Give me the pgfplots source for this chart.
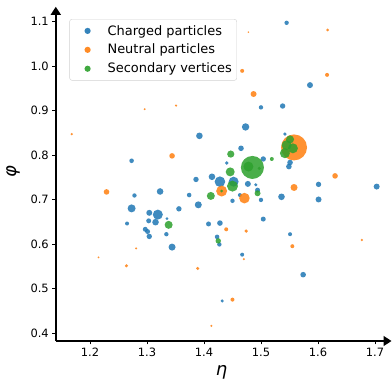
\documentclass[border=0pt]{standalone}
\usepackage{fontspec}
\setmainfont{DejaVu Sans}
\usepackage{pgfplots}
\pgfplotsset{compat=1.18}
\usetikzlibrary{arrows.meta}
\definecolor{c1}{HTML}{1F77B4}
\definecolor{c2}{HTML}{FF7F0E}
\definecolor{c3}{HTML}{2CA02C}
\pgfplotsset{
  bub/.style={scatter, only marks, mark=*, fill opacity=0.85,
    visualization depends on={\thisrow{r} \as \rr},
    scatter/use mapped color={draw opacity=0, fill=#1},
    scatter/@pre marker code/.append style={/tikz/mark size=\rr*1bp},
    legend image code/.code={\path[draw=none, fill=none] (0,-2bp) rectangle (33bp,2bp); \fill[#1, draw=none, fill opacity=0.9] (15bp,0) circle (3.1bp);}},
}
\begin{document}
\begin{tikzpicture}
\begin{axis}[
  scale only axis, width=331.7bp, height=330.2bp,
  xmin=1.14, xmax=1.722, ymin=0.382, ymax=1.124,
  axis lines=left,
  axis line style={line width=1.5bp, -{Triangle[length=8bp,width=10bp]}, shorten >=-4bp},
  tick align=outside, major tick length=3.5bp,
  tick style={line width=0.8bp, black},
  xtick={1.2,1.3,1.4,1.5,1.6,1.7},
  ytick={0.4,0.5,0.6,0.7,0.8,0.9,1.0,1.1},
  /pgf/number format/assume math mode=true,
  /pgf/number format/.cd, fixed, fixed zerofill, precision=1, /pgfplots/.cd,
  tick label style={font=\fontsize{11.5}{13}\selectfont},
  xlabel={\itshape η}, ylabel={\itshape φ},
  label style={font=\fontsize{18}{20}\selectfont},
  xlabel style={at={(axis description cs:0.5,-0.105)}, anchor=base},
  ylabel style={at={(axis description cs:-0.1286,0.5116)}, anchor=center},
  legend cell align=left,
  legend style={at={(axis description cs:0.041,0.975)}, anchor=north west,
    draw=black!18, rounded corners=2.5pt, fill=white, fill opacity=0.8, text opacity=1,
    font=\fontsize{13}{15}\selectfont, row sep=3.6bp, inner xsep=3bp, inner ysep=4bp},
]
\coordinate (O) at (rel axis cs:0,0);
\addplot[bub=c1] table[x=x,y=y] {
x y r
1.545 1.097 2.2
1.586 0.957 3.0
1.500 0.907 2.2
1.538 0.910 2.7
1.473 0.863 3.7
1.542 0.847 1.8
1.392 0.843 3.3
1.465 0.815 2.8
1.440 0.782 1.8
1.273 0.787 2.3
1.504 0.791 2.7
1.551 0.783 2.8
1.549 0.774 2.8
1.414 0.751 3.3
1.386 0.745 2.7
1.428 0.740 5.3
1.452 0.740 5.0
1.477 0.735 3.0
1.491 0.733 1.7
1.601 0.734 2.7
1.703 0.729 3.0
1.601 0.700 3.0
1.536 0.706 3.3
1.494 0.721 2.5
1.463 0.710 2.0
1.500 0.699 2.2
1.450 0.697 2.2
1.390 0.688 3.5
1.323 0.718 3.3
1.278 0.709 2.2
1.374 0.710 2.3
1.273 0.680 4.0
1.304 0.670 3.0
1.319 0.666 5.0
1.356 0.679 2.7
1.265 0.646 2.0
1.303 0.652 2.5
1.315 0.649 3.3
1.335 0.657 1.5
1.297 0.633 2.5
1.301 0.628 2.5
1.304 0.617 2.7
1.334 0.622 2.2
1.344 0.593 3.5
1.408 0.645 2.5
1.428 0.647 2.8
1.504 0.656 2.5
1.423 0.616 2.3
1.427 0.599 2.2
1.551 0.622 2.0
1.467 0.576 2.0
1.574 0.531 2.8
1.432 0.472 1.7
};
\addlegendentry{Charged particles}
\addplot[bub=c2] table[x=x,y=y] {
x y r
1.168 0.847 1.3
1.296 0.903 1.1
1.351 0.911 1.2
1.478 1.076 0.9
1.617 1.081 1.5
1.467 0.989 2.0
1.616 0.980 2.0
1.487 0.937 3.0
1.344 0.798 2.8
1.558 0.817 13.0
1.630 0.753 2.8
1.431 0.719 5.5
1.229 0.717 2.8
1.471 0.703 5.3
1.558 0.727 3.5
1.439 0.633 2.0
1.474 0.629 1.8
1.555 0.595 2.0
1.677 0.609 1.3
1.470 0.566 1.2
1.281 0.590 1.1
1.215 0.570 1.0
1.264 0.551 1.7
1.389 0.545 1.7
1.450 0.475 2.0
1.413 0.416 1.2
};
\addlegendentry{Neutral particles}
\addplot[bub=c3] table[x=x,y=y] {
x y r
1.447 0.802 3.6
1.446 0.762 4.5
1.485 0.772 11.5
1.478 0.774 5.0
1.497 0.770 1.7
1.519 0.791 2.0
1.551 0.835 4.0
1.545 0.822 5.0
1.556 0.815 5.0
1.542 0.804 5.0
1.450 0.730 5.5
1.431 0.719 1.5
1.412 0.708 4.0
1.494 0.714 3.0
1.338 0.643 4.0
1.425 0.607 2.7
};
\addlegendentry{Secondary vertices}
\end{axis}
\pgfresetboundingbox
\path (O) ++(-55.8bp,-40bp) rectangle ++(392bp,381bp);
\end{tikzpicture}
\end{document}
